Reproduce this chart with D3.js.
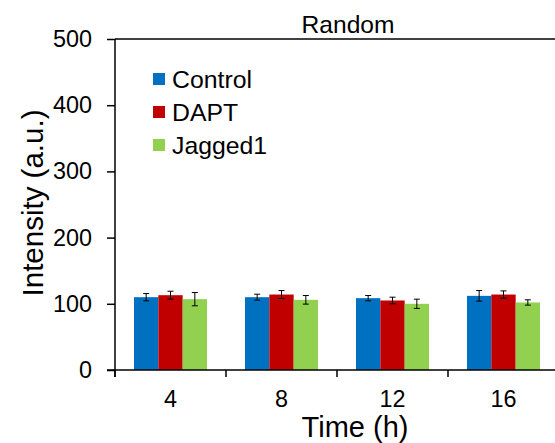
<!DOCTYPE html>
<html><head><meta charset="utf-8">
<script src="https://cdn.jsdelivr.net/npm/d3@7"></script>
<style>body{margin:0;background:#fff}svg{display:block;font-family:"Liberation Sans",Arial,sans-serif}</style>
</head><body><svg id="c" width="555" height="443"></svg>
<script>
const categories = ["4", "8", "12", "16"];
const series = ["Control", "DAPT", "Jagged1"];
const colors = ["#0070C0", "#C00000", "#92D050"];
const controlValues = [110, 110, 108.5, 112];
const daptValues = [113, 114, 105, 114];
const jaggedValues = [107, 106, 100, 102];
const controlErr = [5.5, 4.5, 4, 8];
const daptErr = [6, 6, 5, 5.5];
const jaggedErr = [10, 6.5, 7, 4];
const yTicks = [0, 100, 200, 300, 400, 500];
const title = "Random";
const xTitle = "Time (h)";
const yTitle = "Intensity (a.u.)";

const values = [controlValues, daptValues, jaggedValues];
const errs = [controlErr, daptErr, jaggedErr];

const svg = d3.select("#c");
const mLeft = 115, mRight = 559, mTop = 39, mBottom = 370;

const y = d3.scaleLinear().domain([0, 500]).range([mBottom, mTop]);
const x0 = d3.scaleBand().domain(categories).range([mLeft, mRight]).paddingInner(0).paddingOuter(0);
const x1 = d3.scaleBand().domain(series).range([0, x0.bandwidth()]).paddingInner(0).paddingOuter(0.78);

// top frame line
svg.append("line").attr("x1", mLeft).attr("x2", 555).attr("y1", mTop).attr("y2", mTop)
  .attr("stroke", "#000").attr("stroke-width", 1.5);

// bars
series.forEach((s, si) => {
  const g = svg.append("g");
  categories.forEach((c, ci) => {
    const v = values[si][ci];
    g.append("rect")
      .attr("x", x0(c) + x1(s))
      .attr("y", y(v))
      .attr("width", x1.bandwidth())
      .attr("height", y(0) - y(v))
      .attr("fill", colors[si]);
  });
});
// error bars
series.forEach((s, si) => {
  categories.forEach((c, ci) => {
    const v = values[si][ci], e = errs[si][ci];
    const cx = x0(c) + x1(s) + x1.bandwidth() / 2;
    const g = svg.append("g").attr("stroke", "#000").attr("stroke-width", 1);
    g.append("line").attr("x1", cx).attr("x2", cx).attr("y1", y(v + e)).attr("y2", y(v - e));
    g.append("line").attr("x1", cx - 3).attr("x2", cx + 3).attr("y1", y(v + e)).attr("y2", y(v + e));
    g.append("line").attr("x1", cx - 3).attr("x2", cx + 3).attr("y1", y(v - e)).attr("y2", y(v - e));
  });
});

// y axis
const yAxis = d3.axisLeft(y).tickValues(yTicks).tickSize(8).tickPadding(15).tickSizeOuter(0);
const gy = svg.append("g").attr("transform", `translate(${mLeft},0)`).call(yAxis);
gy.select(".domain").attr("stroke-width", 1.5).attr("d", `M0,${mTop}V${mBottom + 7}`);
gy.selectAll(".tick line").attr("stroke-width", 1.5);
gy.selectAll(".tick text").attr("font-size", 23.4).attr("fill", "#000")
  .attr("font-family", "Liberation Sans, Arial, sans-serif");

// x axis
const xAxis = d3.axisBottom(x0).tickSize(0).tickPadding(20).tickSizeOuter(0);
const gx = svg.append("g").attr("transform", `translate(0,${mBottom})`).call(xAxis);
gx.select(".domain").attr("stroke-width", 1.5).attr("d", `M${mLeft - 8},0H${555}`);
gx.selectAll(".tick text").attr("font-size", 23.4).attr("fill", "#000")
  .attr("font-family", "Liberation Sans, Arial, sans-serif");
// category separator ticks
const sepPositions = categories.map(c => x0(c));
svg.append("g").selectAll("line").data(sepPositions).join("line")
  .attr("x1", d => d).attr("x2", d => d).attr("y1", mBottom).attr("y2", mBottom + 7)
  .attr("stroke", "#000").attr("stroke-width", 1.5);

// titles
svg.append("text").attr("x", 348).attr("y", 33).attr("text-anchor", "middle")
  .attr("font-size", 24.6).text(title);
svg.append("text").attr("x", 355).attr("y", 437).attr("text-anchor", "middle")
  .attr("font-size", 29).text(xTitle);
svg.append("text").attr("transform", "translate(43,203) rotate(-90)").attr("text-anchor", "middle")
  .attr("font-size", 29.5).text(yTitle);

// legend
const lg = svg.append("g");
series.forEach((s, i) => {
  const cy = 79 + i * 33;
  lg.append("rect").attr("x", 153).attr("y", cy - 6).attr("width", 12).attr("height", 12).attr("fill", colors[i]);
  lg.append("text").attr("x", 172).attr("y", cy + 8.5).attr("font-size", 24.8).text(s);
});
</script></body></html>
